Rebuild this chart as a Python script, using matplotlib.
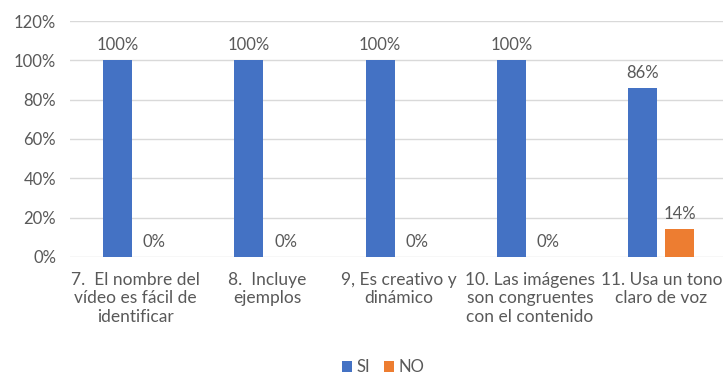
import matplotlib.pyplot as plt
import numpy as np

plt.rcParams['font.family'] = ['Lato', 'DejaVu Sans']

# categorías y porcentajes
categorias = [
    "7.  El nombre del\nvídeo es fácil de\nidentificar",
    "8.  Incluye\nejemplos",
    "9, Es creativo y\ndinámico",
    "10. Las imágenes\nson congruentes\ncon el contenido",
    "11. Usa un tono\nclaro de voz",
]
si = [1.00, 1.00, 1.00, 1.00, 0.86]
no = [0.00, 0.00, 0.00, 0.00, 0.14]

azul = "#4472C4"
naranja = "#ED7D31"
gris = "#595959"

fig = plt.figure(figsize=(7.23, 3.75), dpi=100)
ax = fig.add_axes([0.097, 0.315, 0.903, 0.629])

x = np.arange(len(categorias))
w = 0.22
off = 0.14
b1 = ax.bar(x - off, si, w, color=azul, label="SI", zorder=3)
b2 = ax.bar(x + off, no, w, color=naranja, label="NO", zorder=3)

for bars in (b1, b2):
    for r in bars:
        ax.annotate(f"{r.get_height():.0%}", (r.get_x() + r.get_width() / 2, r.get_height()),
                    xytext=(0, 5), textcoords="offset points", ha="center", va="bottom",
                    fontsize=12, color=gris)

ax.set_ylim(0, 1.2)
ax.set_yticks(np.arange(0, 1.21, 0.2))
ax.set_yticklabels([f"{v:.0%}" for v in np.arange(0, 1.21, 0.2)], fontsize=12)
ax.set_xlim(-0.5, 4.47)
ax.set_xticks(x)
ax.set_xticklabels(categorias, fontsize=12.5, linespacing=1.18)
ax.tick_params(axis="both", length=0, labelcolor=gris)
ax.tick_params(axis="x", pad=11)
ax.tick_params(axis="y", pad=10)
ax.grid(axis="y", color="#D9D9D9", linewidth=1, zorder=0)
for s in ax.spines.values():
    s.set_visible(False)

fig.legend(handles=[b1, b2], loc="center", bbox_to_anchor=(0.53, 0.02), ncol=2,
           frameon=False, fontsize=12, handlelength=0.6, handleheight=0.6,
           handletextpad=0.3, columnspacing=0.8, labelcolor=gris)

fig.savefig("out.png", dpi=100)
